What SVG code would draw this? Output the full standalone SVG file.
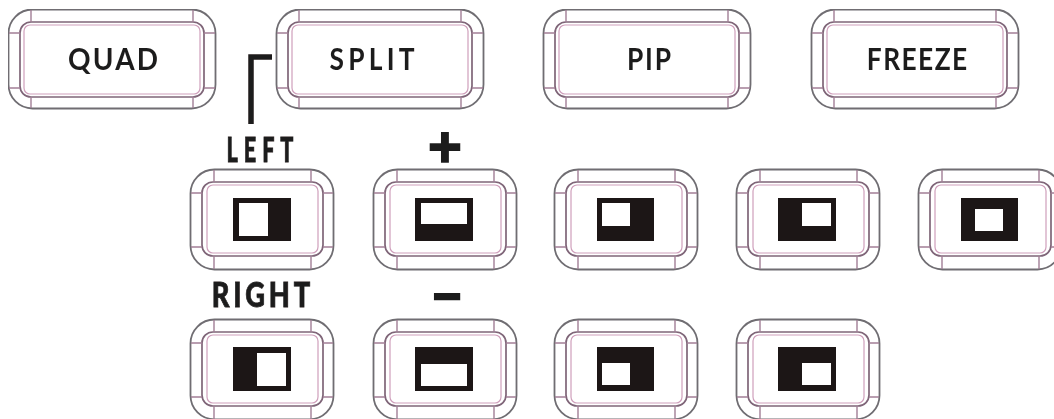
<svg xmlns="http://www.w3.org/2000/svg" width="1054" height="419" viewBox="0 0 1054 419">
<style>
.o{fill:none;stroke:#6f6d72;stroke-width:1.8}
.m{fill:none;stroke:#7f6578;stroke-width:1.7}
.p{fill:none;stroke:#cf9fbb;stroke-width:1.2}
.d{fill:none;stroke:#a27f96;stroke-width:1.4}
.k{fill:#1a1716}
.w{fill:#fff}
text{font-family:Lato,"Liberation Sans",sans-serif;fill:#1f1d1d;text-anchor:middle}
.t{font-size:31px;font-weight:700}
.l{font-size:35px;font-weight:900;stroke:#1f1d1d;stroke-width:.8}
.s{font-family:"Liberation Sans",sans-serif;font-weight:700;stroke:#1f1d1d}
</style>
<defs>
<filter id="soft" x="0" y="0" width="100%" height="100%"><feGaussianBlur stdDeviation="0.45"/></filter>
<g id="big">
<rect class="o" x="0.5" y="0.5" width="207" height="99" rx="24"/>
<rect class="m" x="12" y="13" width="184" height="75" rx="11"/>
<rect class="p" x="16" y="16" width="176" height="69" rx="6"/>
<path class="d" d="M23 1V13M185 1V13M23 88V99M185 88V99M1 24H12M196 24H207M1 79H12M196 79H207"/>
</g>
<g id="small">
<rect class="o" x="0.5" y="0.5" width="143" height="100" rx="24"/>
<rect class="m" x="12" y="13" width="121" height="74" rx="11"/>
<rect class="p" x="17" y="16" width="111" height="68" rx="6"/>
<path class="d" d="M24 1V13M121 1V13M24 87V100M121 87V100M1 24H12M133 24H143M1 78H12M133 78H143"/>
</g>
</defs>
<rect width="1054" height="419" fill="#fff"/>
<g filter="url(#soft)">
<g id="connectors"><path d="M251 124V57H272" fill="none" stroke="#1f1d1d" stroke-width="5.5"/></g>
<g id="quad"><use href="#big" x="8" y="9"/><text class="t" transform="translate(113 70) scale(.9 1)" textLength="100" lengthAdjust="spacing">QUAD</text></g>
<g id="split"><use href="#big" x="276" y="9"/><text class="t" transform="translate(372 70) scale(.85 1)" textLength="100" lengthAdjust="spacing">SPLIT</text></g>
<g id="pip"><use href="#big" x="543" y="9"/><text class="t" transform="translate(649 70) scale(.85 1)" textLength="52" lengthAdjust="spacing">PIP</text></g>
<g id="freeze"><use href="#big" x="811" y="9"/><text class="t" transform="translate(917 70) scale(.85 1)" textLength="118" lengthAdjust="spacing">FREEZE</text></g>
<g id="label-left"><text class="l" transform="translate(260 162) scale(.62 1)" textLength="108" lengthAdjust="spacing">LEFT</text></g>
<g id="label-plus"><text class="s" x="445" y="167" style="font-size:58px" stroke-width="1.5">+</text></g>
<g id="label-right"><text class="l" transform="translate(261 307) scale(.78 1)" textLength="126" lengthAdjust="spacing">RIGHT</text></g>
<g id="label-minus"><text class="s" x="447" y="310" style="font-size:48px" stroke-width="2.5">–</text></g>
<g id="btn-r1-1"><use href="#small" x="190" y="169"/><rect class="k" x="233" y="198" width="58" height="43"/><rect class="w" x="239" y="203" width="29" height="33"/></g>
<g id="btn-r1-2"><use href="#small" x="373" y="169"/><rect class="k" x="415" y="198" width="58" height="43"/><rect class="w" x="421" y="203" width="46" height="21"/></g>
<g id="btn-r1-3"><use href="#small" x="554" y="169"/><rect class="k" x="597" y="198" width="57" height="43"/><rect class="w" x="602" y="203" width="28" height="23"/></g>
<g id="btn-r1-4"><use href="#small" x="736" y="169"/><rect class="k" x="778" y="198" width="58" height="43"/><rect class="w" x="802" y="203" width="29" height="23"/></g>
<g id="btn-r1-5"><use href="#small" x="918" y="169"/><rect class="k" x="961" y="198" width="57" height="43"/><rect class="w" x="975" y="209" width="28" height="22"/></g>
<g id="btn-r2-1"><use href="#small" x="190" y="319"/><rect class="k" x="233" y="347" width="58" height="44"/><rect class="w" x="257" y="353" width="29" height="33"/></g>
<g id="btn-r2-2"><use href="#small" x="373" y="319"/><rect class="k" x="415" y="347" width="58" height="44"/><rect class="w" x="421" y="364" width="46" height="22"/></g>
<g id="btn-r2-3"><use href="#small" x="554" y="319"/><rect class="k" x="597" y="347" width="57" height="44"/><rect class="w" x="602" y="363" width="28" height="22"/></g>
<g id="btn-r2-4"><use href="#small" x="736" y="319"/><rect class="k" x="778" y="347" width="58" height="44"/><rect class="w" x="802" y="363" width="29" height="22"/></g>
</g>
</svg>
